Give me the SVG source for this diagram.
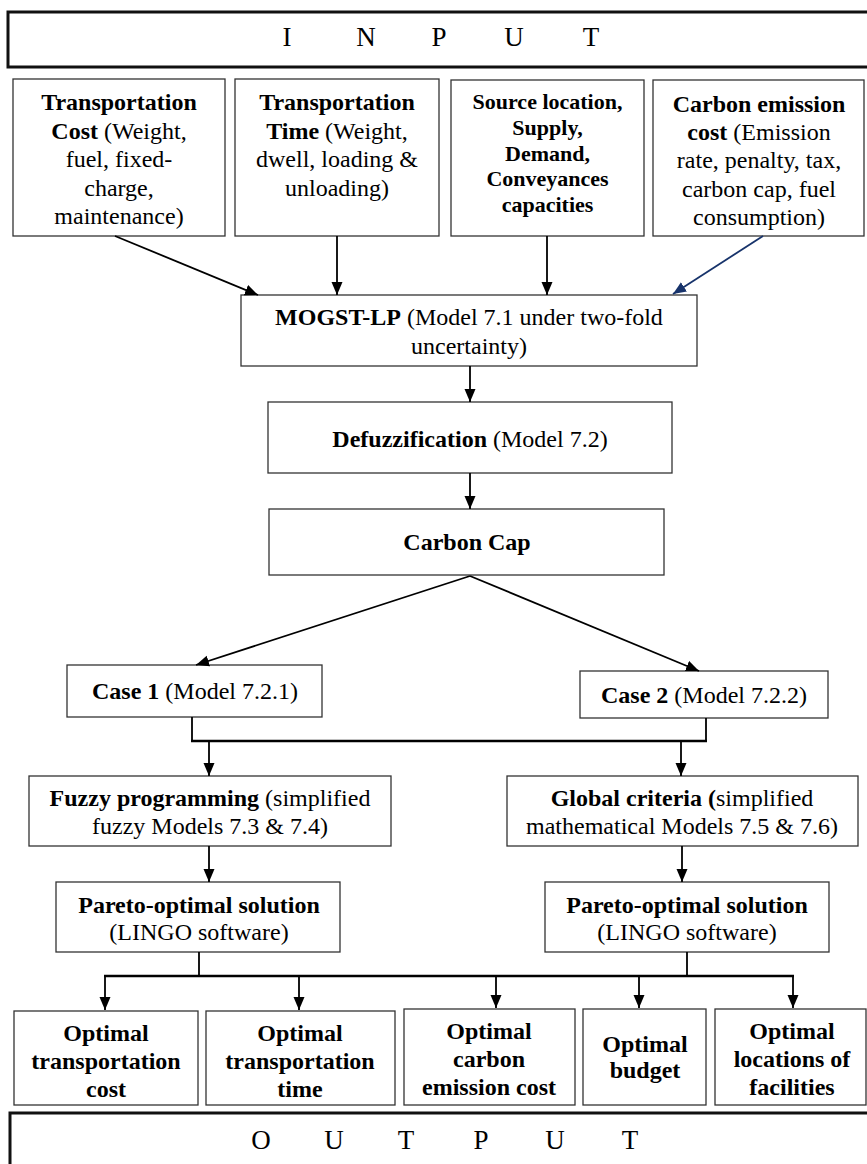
<svg xmlns="http://www.w3.org/2000/svg" width="867" height="1164" viewBox="0 0 867 1164">
<style>
.bg{fill:#fff}
.box{fill:#fff;stroke:#333;stroke-width:1.3}
.big{fill:#fff;stroke:#111;stroke-width:3}
.t{font-family:"Liberation Serif","Times New Roman",serif;font-size:24px;fill:#000;text-anchor:middle}
.s{font-size:22px}
.b{font-weight:bold}
.h{font-family:"Liberation Serif","Times New Roman",serif;font-size:27px;fill:#000;text-anchor:middle}
.c{fill:none;stroke:#000;stroke-width:1.8}
.cb{fill:none;stroke:#000;stroke-width:2.6}
.blue{fill:none;stroke:#17336b;stroke-width:1.8}
</style>
<defs>
<marker id="ah" markerUnits="userSpaceOnUse" markerWidth="14" markerHeight="12" refX="13" refY="6" orient="auto"><path d="M0,0.5 L13,6 L0,11.5 z" fill="#000"/></marker>
<marker id="ahb" markerUnits="userSpaceOnUse" markerWidth="14" markerHeight="12" refX="13" refY="6" orient="auto"><path d="M0,0.5 L13,6 L0,11.5 z" fill="#17336b"/></marker>
</defs>
<rect class="bg" x="0" y="0" width="867" height="1164"/>

<g id="input">
<rect class="big" x="8" y="12" width="880" height="55"/>
<text class="h" y="46"><tspan x="287">I</tspan><tspan x="366">N</tspan><tspan x="439">P</tspan><tspan x="514">U</tspan><tspan x="591">T</tspan></text>
</g>

<g id="n-cost">
<rect class="box" x="13" y="79" width="212" height="157"/>
<text class="t"><tspan x="119" y="110" class="b">Transportation</tspan><tspan x="119" y="138.5"><tspan class="b">Cost</tspan> (Weight,</tspan><tspan x="119" y="167">fuel, fixed-</tspan><tspan x="119" y="195.5">charge,</tspan><tspan x="119" y="224">maintenance)</tspan></text>
</g>

<g id="n-time">
<rect class="box" x="235" y="79" width="204" height="157"/>
<text class="t"><tspan x="337" y="110" class="b">Transportation</tspan><tspan x="337" y="138.5"><tspan class="b">Time</tspan> (Weight,</tspan><tspan x="337" y="167">dwell, loading &amp;</tspan><tspan x="337" y="195.5">unloading)</tspan></text>
</g>

<g id="n-source">
<rect class="box" x="451" y="80" width="193" height="156"/>
<text class="t s b"><tspan x="547.5" y="109">Source location,</tspan><tspan x="547.5" y="135">Supply,</tspan><tspan x="547.5" y="160.5">Demand,</tspan><tspan x="547.5" y="186">Conveyances</tspan><tspan x="547.5" y="211.5">capacities</tspan></text>
</g>

<g id="n-carbon">
<rect class="box" x="653" y="80" width="211" height="156"/>
<text class="t"><tspan x="759" y="111.5" class="b">Carbon emission</tspan><tspan x="759" y="140"><tspan class="b">cost</tspan> (Emission</tspan><tspan x="759" y="168">rate, penalty, tax,</tspan><tspan x="759" y="196.5">carbon cap, fuel</tspan><tspan x="759" y="225">consumption)</tspan></text>
</g>

<g id="n-mogst">
<rect class="box" x="241" y="295" width="456" height="71"/>
<text class="t"><tspan x="469" y="325"><tspan class="b">MOGST-LP</tspan> (Model 7.1 under two-fold</tspan><tspan x="469" y="354">uncertainty)</tspan></text>
</g>

<g id="n-defuzz">
<rect class="box" x="268" y="402" width="404" height="71"/>
<text class="t" x="470" y="447"><tspan class="b">Defuzzification</tspan> (Model 7.2)</text>
</g>

<g id="n-cap">
<rect class="box" x="269" y="509" width="395" height="66"/>
<text class="t b" x="467" y="550">Carbon Cap</text>
</g>

<g id="n-case1">
<rect class="box" x="67" y="665" width="255" height="52"/>
<text class="t" x="195" y="699"><tspan class="b">Case 1</tspan> (Model 7.2.1)</text>
</g>

<g id="n-case2">
<rect class="box" x="580" y="671" width="248" height="47"/>
<text class="t" x="704" y="703"><tspan class="b">Case 2</tspan> (Model 7.2.2)</text>
</g>

<g id="n-fuzzy">
<rect class="box" x="29" y="776" width="362" height="70"/>
<text class="t"><tspan x="210" y="806"><tspan class="b">Fuzzy programming</tspan> (simplified</tspan><tspan x="210" y="834">fuzzy Models 7.3 &amp; 7.4)</tspan></text>
</g>

<g id="n-global">
<rect class="box" x="507" y="776" width="351" height="70"/>
<text class="t"><tspan x="682" y="806"><tspan class="b">Global criteria (</tspan>simplified</tspan><tspan x="682" y="834">mathematical Models 7.5 &amp; 7.6)</tspan></text>
</g>

<g id="n-pareto1">
<rect class="box" x="56" y="882" width="284" height="70"/>
<text class="t"><tspan x="199" y="913" class="b">Pareto-optimal solution</tspan><tspan x="199" y="940">(LINGO software)</tspan></text>
</g>

<g id="n-pareto2">
<rect class="box" x="545" y="882" width="284" height="70"/>
<text class="t"><tspan x="687" y="913" class="b">Pareto-optimal solution</tspan><tspan x="687" y="940">(LINGO software)</tspan></text>
</g>

<g id="n-out1">
<rect class="box" x="14" y="1011" width="184" height="94"/>
<text class="t b"><tspan x="106" y="1041">Optimal</tspan><tspan x="106" y="1069">transportation</tspan><tspan x="106" y="1097">cost</tspan></text>
</g>
<g id="n-out2">
<rect class="box" x="206" y="1011" width="189" height="94"/>
<text class="t b"><tspan x="300" y="1041">Optimal</tspan><tspan x="300" y="1069">transportation</tspan><tspan x="300" y="1097">time</tspan></text>
</g>
<g id="n-out3">
<rect class="box" x="404" y="1009" width="171" height="96"/>
<text class="t b"><tspan x="489" y="1039">Optimal</tspan><tspan x="489" y="1067">carbon</tspan><tspan x="489" y="1095">emission cost</tspan></text>
</g>
<g id="n-out4">
<rect class="box" x="583" y="1009" width="123" height="96"/>
<text class="t b"><tspan x="645" y="1052">Optimal</tspan><tspan x="645" y="1078">budget</tspan></text>
</g>
<g id="n-out5">
<rect class="box" x="715" y="1009" width="151" height="96"/>
<text class="t b"><tspan x="792" y="1039">Optimal</tspan><tspan x="792" y="1067">locations of</tspan><tspan x="792" y="1095">facilities</tspan></text>
</g>

<g id="output">
<rect class="big" x="10" y="1113" width="880" height="70"/>
<text class="h" y="1149"><tspan x="261">O</tspan><tspan x="334">U</tspan><tspan x="406">T</tspan><tspan x="481">P</tspan><tspan x="555">U</tspan><tspan x="630">T</tspan></text>
</g>

<g id="connectors">
<line class="c" x1="115" y1="236" x2="258" y2="295" marker-end="url(#ah)"/>
<line class="c" x1="337" y1="236" x2="337" y2="295" marker-end="url(#ah)"/>
<line class="c" x1="547" y1="236" x2="547" y2="295" marker-end="url(#ah)"/>
<line class="blue" x1="763" y1="236" x2="673" y2="294" marker-end="url(#ahb)"/>
<line class="c" x1="470" y1="366" x2="470" y2="402" marker-end="url(#ah)"/>
<line class="c" x1="470" y1="473" x2="470" y2="509" marker-end="url(#ah)"/>
<line class="c" x1="470" y1="576" x2="196" y2="665" marker-end="url(#ah)"/>
<line class="c" x1="470" y1="576" x2="699" y2="671" marker-end="url(#ah)"/>
<path class="c" d="M192,717 V741 M706,718 V741"/>
<line class="cb" x1="191" y1="741" x2="707" y2="741"/>
<line class="c" x1="209" y1="741" x2="209" y2="776" marker-end="url(#ah)"/>
<line class="c" x1="681" y1="741" x2="681" y2="776" marker-end="url(#ah)"/>
<line class="c" x1="209" y1="846" x2="209" y2="882" marker-end="url(#ah)"/>
<line class="c" x1="682" y1="846" x2="682" y2="882" marker-end="url(#ah)"/>
<path class="c" d="M199,952 V976 M687,952 V976"/>
<line class="cb" x1="104" y1="976" x2="794" y2="976"/>
<line class="c" x1="105" y1="976" x2="105" y2="1010" marker-end="url(#ah)"/>
<line class="c" x1="299" y1="976" x2="299" y2="1010" marker-end="url(#ah)"/>
<line class="c" x1="496" y1="976" x2="496" y2="1008" marker-end="url(#ah)"/>
<line class="c" x1="639" y1="976" x2="639" y2="1008" marker-end="url(#ah)"/>
<line class="c" x1="793" y1="976" x2="793" y2="1008" marker-end="url(#ah)"/>
</g>
</svg>
